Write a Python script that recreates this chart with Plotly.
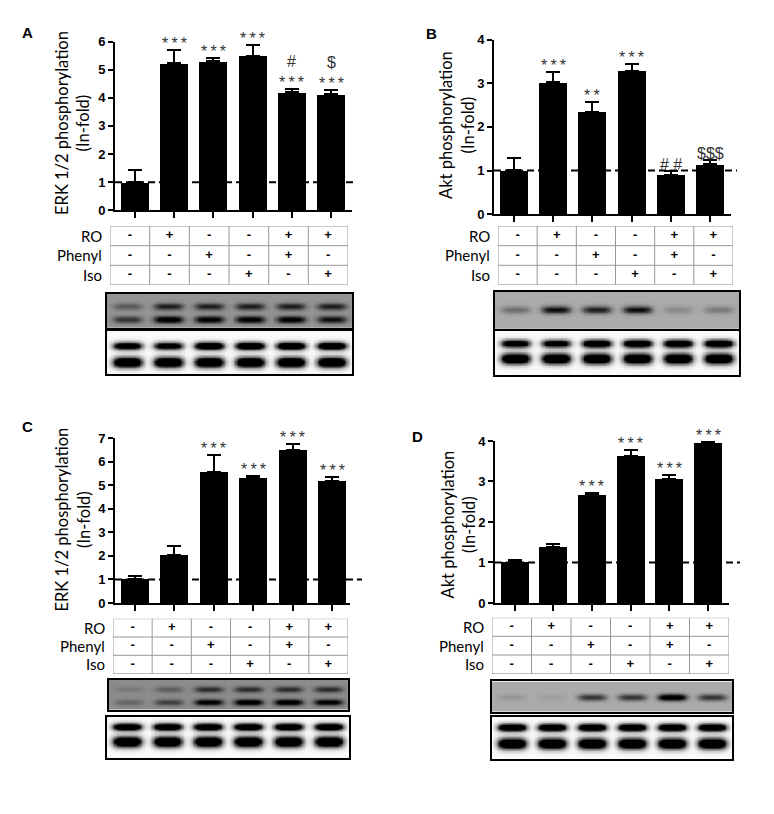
import numpy as np
import plotly.graph_objects as go

# treatments per lane
ro = ["-", "+", "-", "-", "+", "+"]
phenyl = ["-", "-", "+", "-", "+", "-"]
iso = ["-", "-", "-", "+", "-", "+"]
row_labels = ["RO", "Phenyl", "Iso"]

# panel A - ERK 1/2
erk_a = [1.0, 5.22, 5.30, 5.50, 4.20, 4.12]
erk_a_err = [0.42, 0.49, 0.12, 0.38, 0.12, 0.16]
erk_a_marks = ["", "***", "***", "***", "#<br>***", "$<br>***"]

# panel B - Akt
akt_b = [1.01, 3.02, 2.35, 3.29, 0.90, 1.14]
akt_b_err = [0.27, 0.24, 0.21, 0.15, 0.08, 0.10]
akt_b_marks = ["", "***", "**", "***", "# #", "$$$"]

# panel C - ERK 1/2
erk_c = [1.02, 2.04, 5.55, 5.30, 6.49, 5.19]
erk_c_err = [0.14, 0.36, 0.73, 0.08, 0.25, 0.14]
erk_c_marks = ["", "", "***", "***", "***", "***"]

# panel D - Akt
akt_d = [1.02, 1.38, 2.67, 3.64, 3.06, 3.94]
akt_d_err = [0.05, 0.08, 0.04, 0.14, 0.11, 0.03]
akt_d_marks = ["", "", "***", "***", "***", "***"]

# blot band darkness per lane
a_phos_upper = [0.15, 0.30, 0.30, 0.30, 0.30, 0.30]
a_phos_lower = [0.25, 0.45, 0.42, 0.42, 0.42, 0.35]
b_phos = [0.15, 0.40, 0.35, 0.40, 0.08, 0.12]
c_phos_upper = [0.05, 0.12, 0.25, 0.25, 0.25, 0.25]
c_phos_lower = [0.10, 0.20, 0.40, 0.45, 0.45, 0.40]
d_phos = [0.05, 0.03, 0.30, 0.30, 0.55, 0.30]
total_upper_ab = [0.85, 0.80, 1.0, 1.0, 1.0, 1.0]
total_lower_ab = [1.0, 1.0, 1.0, 1.0, 1.0, 1.0]
total_upper_cd = [1.0, 1.0, 1.0, 1.0, 1.0, 1.0]
total_lower_cd = [1.0, 1.0, 1.0, 1.0, 1.0, 1.0]

W, H = 774, 814
OFF = 8  # page body margin


def px(x):
    return (x - OFF) / W


def py(y):
    return 1 - (y - OFF) / H


panels = [
    dict(letter="A", letter_xy=(27, 26), title="ERK 1/2 phosphorylation<br>(In-fold)", title_xy=(73, 118),
         vals=erk_a, err=erk_a_err, marks=erk_a_marks, ymax=6,
         bar_x=(115, 352), bar_y=(35, 207), c0=135, s=39.2, dash_end=357,
         table_x=(110, 348), table_y=(223, 283),
         blot1=(107, 352, 292, 327), blot2=(107, 352, 330, 374),
         phos=[(0.37, 0.1, a_phos_upper), (0.75, 0.1, a_phos_lower)], phos_bg=0.42,
         total=[(0.34, 0.09, total_upper_ab), (0.72, 0.12, total_lower_ab)]),
    dict(letter="B", letter_xy=(431, 27), title="Akt phosphorylation<br>(In-fold)", title_xy=(457, 120),
         vals=akt_b, err=akt_b_err, marks=akt_b_marks, ymax=4,
         bar_x=(494, 731), bar_y=(33, 211), c0=514, s=39.2, dash_end=737,
         table_x=(498, 733), table_y=(223, 283),
         blot1=(495, 739, 290, 328), blot2=(495, 739, 330, 375),
         phos=[(0.48, 0.1, b_phos)], phos_bg=0.33,
         total=[(0.28, 0.09, total_upper_ab), (0.62, 0.12, total_lower_ab)]),
    dict(letter="C", letter_xy=(27, 427), title="ERK 1/2 phosphorylation<br>(In-fold)", title_xy=(73, 522),
         vals=erk_c, err=erk_c_err, marks=erk_c_marks, ymax=7,
         bar_x=(115, 350), bar_y=(439, 607), c0=135, s=39.4, dash_end=362,
         table_x=(113, 348), table_y=(623, 679),
         blot1=(109, 348, 685, 716), blot2=(107, 349, 723, 765),
         phos=[(0.32, 0.1, c_phos_upper), (0.75, 0.1, c_phos_lower)], phos_bg=0.45,
         total=[(0.24, 0.09, total_upper_cd), (0.6, 0.13, total_lower_cd)]),
    dict(letter="D", letter_xy=(417, 437), title="Akt phosphorylation<br>(In-fold)", title_xy=(458, 527),
         vals=akt_d, err=akt_d_err, marks=akt_d_marks, ymax=4,
         bar_x=(495, 729), bar_y=(442, 607), c0=514.5, s=38.7, dash_end=740,
         table_x=(492, 729), table_y=(622, 679),
         blot1=(492, 732, 687, 718), blot2=(492, 732, 723, 766),
         phos=[(0.52, 0.11, d_phos)], phos_bg=0.33,
         total=[(0.25, 0.09, total_upper_cd), (0.63, 0.13, total_lower_cd)]),
]

fig = go.Figure()
layout = {}
annotations = []
shapes = []

tick_font = dict(family="Liberation Sans", size=13, color="black", weight="bold")
label_font = dict(family="Lato", size=15, color="black")
title_font = dict(family="Lato", size=16.5, color="black")


def ax_name(kind, n):
    return kind + "axis" + ("" if n == 1 else str(n))


def ref(kind, n):
    return kind + ("" if n == 1 else str(n))


def blot_image(bands, bg):
    xs = np.linspace(0, 6, 301)
    ys = np.linspace(0, 1, 61)
    X, Y = np.meshgrid(xs, ys)
    z = np.full(X.shape, bg)
    for ypos, sig, amps in bands:
        for i, a in enumerate(amps):
            shape_x = np.exp(-((X - (i + 0.5)) / 0.36) ** 4)
            shape_y = np.exp(-((Y - ypos) / sig) ** 2)
            z = z + 1.6 * a * shape_x * shape_y
    return xs, ys, np.clip(z, 0, 1)


for p, cfg in enumerate(panels):
    nb, nt, n1, n2 = 4 * p + 1, 4 * p + 2, 4 * p + 3, 4 * p + 4
    L, R = cfg["bar_x"]
    top, bot = cfg["bar_y"]
    c0, s = cfg["c0"], cfg["s"]
    lanes = list(range(6))

    # bars with error bars
    fig.add_trace(go.Bar(
        x=lanes, y=cfg["vals"], width=28 / s,
        marker=dict(color="black", line=dict(width=0)),
        error_y=dict(type="data", array=cfg["err"], arrayminus=[0] * 6, symmetric=False,
                     color="black", thickness=2, width=7),
        xaxis=ref("x", nb), yaxis=ref("y", nb), showlegend=False))
    layout[ax_name("x", nb)] = dict(
        domain=[px(L), px(R)], range=[(L - c0) / s, (R - c0) / s], anchor=ref("y", nb),
        tickvals=lanes, ticktext=[""] * 6, ticks="outside", ticklen=6, tickwidth=2,
        tickcolor="black", showline=True, linewidth=2, linecolor="black",
        showgrid=False, zeroline=False, fixedrange=True)
    layout[ax_name("y", nb)] = dict(
        domain=[py(bot), py(top)], range=[0, cfg["ymax"]], anchor=ref("x", nb),
        tickvals=list(range(cfg["ymax"] + 1)), ticks="outside", ticklen=5, tickwidth=2,
        tickcolor="black", showline=True, linewidth=2, linecolor="black",
        showgrid=False, zeroline=False, tickfont=tick_font, fixedrange=True)

    # dashed baseline at 1
    shapes.append(dict(type="line", xref=ref("x", nb) + " domain", yref=ref("y", nb),
                       x0=0, x1=(cfg["dash_end"] - L) / (R - L), y0=1, y1=1,
                       line=dict(color="black", width=2, dash="7px,4px")))

    # significance marks
    for i, m in enumerate(cfg["marks"]):
        if m:
            annotations.append(dict(x=i, y=cfg["vals"][i] + cfg["err"][i], xref=ref("x", nb),
                                    yref=ref("y", nb), text=m.replace("***", "*\u2009*\u2009*").replace("**", "*\u2009*"),
                                    showarrow=False, xanchor="center", yanchor="bottom", yshift=-4,
                                    font=dict(family="Liberation Sans", size=16, color="#333")))

    # y title and panel letter
    tx, ty = cfg["title_xy"]
    annotations.append(dict(x=px(tx), y=py(ty), xref="paper", yref="paper", text=cfg["title"],
                            textangle=-90, showarrow=False, xanchor="center", yanchor="middle",
                            font=title_font))
    lx, ly = cfg["letter_xy"]
    annotations.append(dict(x=px(lx), y=py(ly), xref="paper", yref="paper", text="<b>" + cfg["letter"] + "</b>",
                            showarrow=False, xanchor="center", yanchor="middle",
                            font=dict(family="Liberation Sans", size=15, color="black")))

    # treatment table
    tl, tr = cfg["table_x"]
    tt, tb = cfg["table_y"]
    layout[ax_name("x", nt)] = dict(domain=[px(tl), px(tr)], range=[0, 6], anchor=ref("y", nt),
                                    visible=False, fixedrange=True)
    layout[ax_name("y", nt)] = dict(domain=[py(tb), py(tt)], range=[3, 0], anchor=ref("x", nt),
                                    visible=False, fixedrange=True)
    tx_list, ty_list, tt_list = [], [], []
    for r, row in enumerate([ro, phenyl, iso]):
        for c, sign in enumerate(row):
            tx_list.append(c + 0.5)
            ty_list.append(r + 0.5)
            tt_list.append("<b>" + sign + "</b>")
    fig.add_trace(go.Scatter(x=tx_list, y=ty_list, text=tt_list, mode="text",
                             textfont=dict(family="Liberation Sans", size=13, color="black"),
                             xaxis=ref("x", nt), yaxis=ref("y", nt), showlegend=False, hoverinfo="skip"))
    for c in range(7):
        shapes.append(dict(type="line", xref=ref("x", nt), yref=ref("y", nt), x0=c, x1=c, y0=0, y1=3,
                           line=dict(color="#999", width=1)))
    for r in range(4):
        shapes.append(dict(type="line", xref=ref("x", nt), yref=ref("y", nt), x0=0, x1=6, y0=r, y1=r,
                           line=dict(color="#999", width=1)))
    for r, lab in enumerate(row_labels):
        annotations.append(dict(x=px(tl - 6), y=py(tt + (tb - tt) * (r + 0.5) / 3), xref="paper", yref="paper",
                                text=lab, xanchor="right", yanchor="middle", showarrow=False, font=label_font))

    # blots
    for n, box, bands, bg in [(n1, cfg["blot1"], cfg["phos"], cfg["phos_bg"]),
                              (n2, cfg["blot2"], cfg["total"], 0.02)]:
        bl, br, bt, bb = box
        xs, ys, z = blot_image(bands, bg)
        fig.add_trace(go.Heatmap(x=xs, y=ys, z=z, zmin=0, zmax=1, zsmooth="best",
                                 colorscale=[[0, "white"], [1, "black"]], showscale=False,
                                 xaxis=ref("x", n), yaxis=ref("y", n), hoverinfo="skip"))
        layout[ax_name("x", n)] = dict(domain=[px(bl), px(br)], range=[0, 6], anchor=ref("y", n),
                                       showticklabels=False, ticks="", showgrid=False, zeroline=False,
                                       showline=True, mirror=True, linewidth=2, linecolor="black",
                                       fixedrange=True)
        layout[ax_name("y", n)] = dict(domain=[py(bb), py(bt)], range=[1, 0], anchor=ref("x", n),
                                       showticklabels=False, ticks="", showgrid=False, zeroline=False,
                                       showline=True, mirror=True, linewidth=2, linecolor="black",
                                       fixedrange=True)

fig.update_layout(**layout)
fig.update_layout(width=W, height=H, margin=dict(l=0, r=0, t=0, b=0),
                  paper_bgcolor="white", plot_bgcolor="white",
                  annotations=annotations, shapes=shapes, bargap=0)

fig.write_html("out.html")
